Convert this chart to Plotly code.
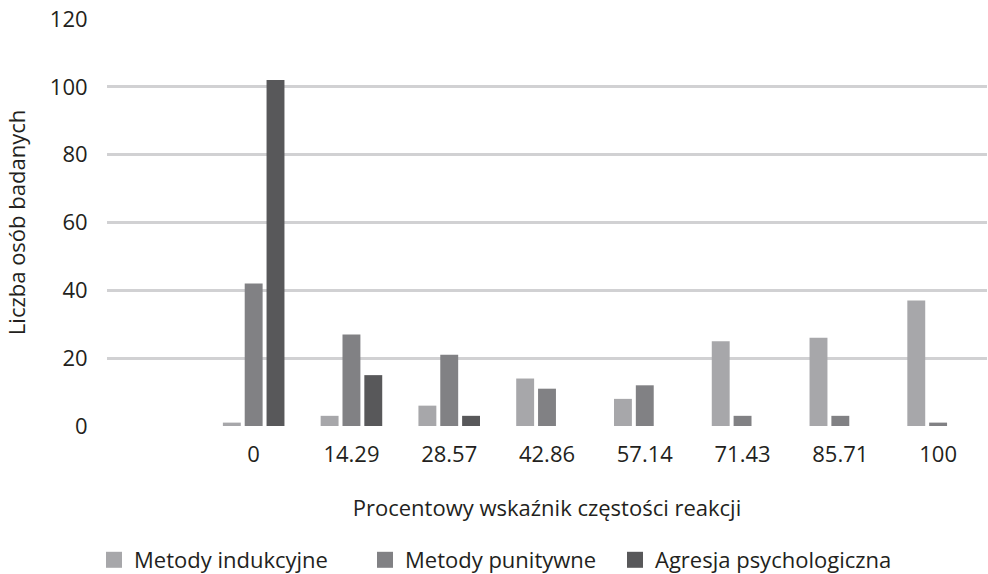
import plotly.graph_objects as go

categories = ["", "0", "14.29", "28.57", "42.86", "57.14", "71.43", "85.71", "100"]
induk = [None, 1, 3, 6, 14, 8, 25, 26, 37]
punit = [None, 42, 27, 21, 11, 12, 3, 3, 1]
agres = [None, 102, 15, 3, 0, 0, 0, 0, 0]
series_names = ["Metody indukcyjne", "Metody punitywne", "Agresja psychologiczna"]
colors = ["#a7a7aa", "#818184", "#58585a"]
y_ticks = [0, 20, 40, 60, 80, 100, 120]

FONT = "Open Sans"
FS = 22
W, H = 988, 574
legend_ids = ["legend", "legend2", "legend3"]
legend_text_x = [134, 405, 655]

fig = go.Figure()
for name, vals, c, lid in zip(series_names, [induk, punit, agres], colors, legend_ids):
    fig.add_trace(go.Bar(x=categories, y=vals, name=name, showlegend=False,
                         legendgroup=name, marker=dict(color=c, line=dict(width=0))))
for name, c, lid in zip(series_names, colors, legend_ids):
    # legend-only entry with a larger square key
    fig.add_trace(go.Scatter(x=[None], y=[None], mode="markers", name=name, legend=lid,
                             legendgroup=name, hoverinfo="skip",
                             marker=dict(symbol="square", size=16, color=c, line=dict(width=0))))

legends = {}
for lid, tx in zip(legend_ids, legend_text_x):
    legends[lid] = dict(orientation="h", xref="container", x=(tx - 40) / W, xanchor="left",
                        yref="container", y=(H - 560) / H, yanchor="middle",
                        font=dict(size=FS), bgcolor="rgba(0,0,0,0)")

fig.update_layout(
    width=W, height=H,
    margin=dict(l=107, r=1, t=19, b=148, autoexpand=False),
    paper_bgcolor="white", plot_bgcolor="white",
    barmode="group", bargap=0.33, bargroupgap=0.18,
    font=dict(family=FONT, size=FS, color="#231f20"),
    showlegend=True,
    xaxis=dict(type="category", categoryorder="array", categoryarray=categories,
               showgrid=False, showline=False, zeroline=False, automargin=False,
               ticks="outside", ticklen=9, tickcolor="rgba(0,0,0,0)",
               tickfont=dict(size=FS),
               title=dict(text="Procentowy wskaźnik częstości reakcji", standoff=33,
                          font=dict(size=FS))),
    yaxis=dict(range=[0, 120], tickvals=y_ticks, showgrid=True, gridcolor="#d1d1d3",
               gridwidth=2.5, zeroline=False, showline=False, automargin=False,
               ticks="outside", ticklen=14, tickcolor="rgba(0,0,0,0)",
               tickfont=dict(size=FS),
               title=dict(text="Liczba osób badanych", standoff=18, font=dict(size=FS))),
    **legends,
)
fig.write_html("out.html", config={"displayModeBar": False},
               post_script="document.body.style.margin='0';document.body.style.overflow='hidden';")
